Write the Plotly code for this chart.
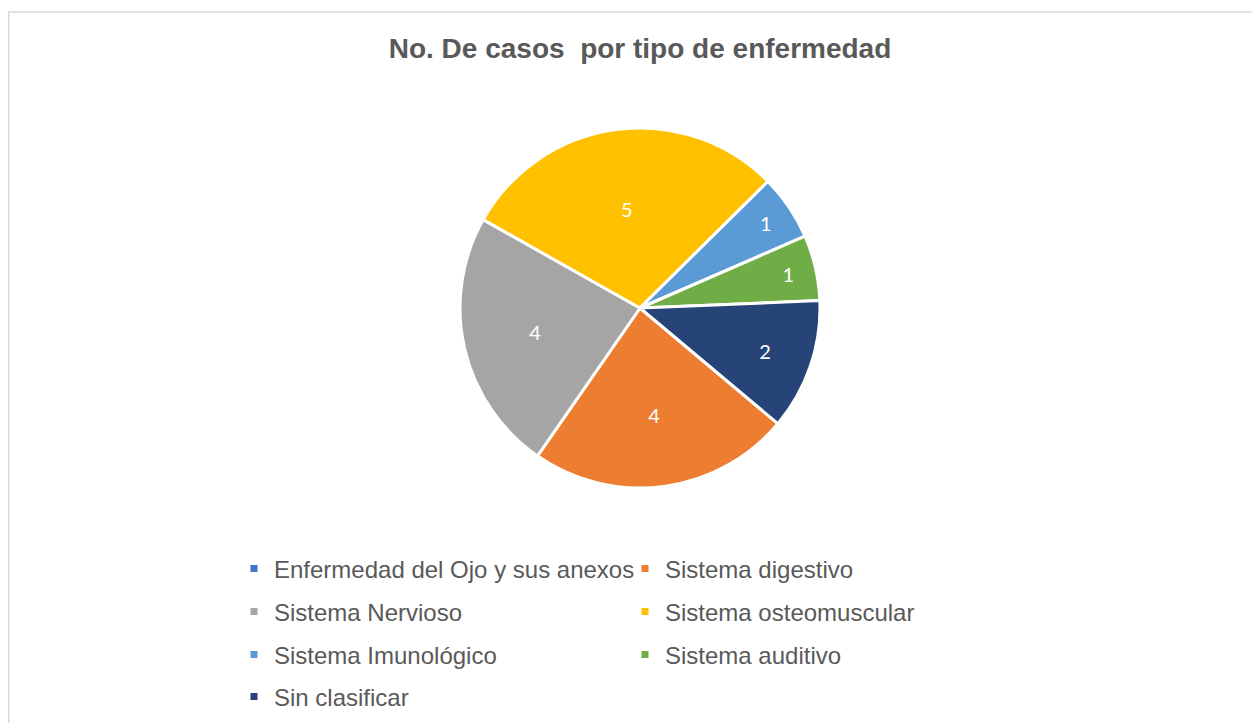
import plotly.graph_objects as go

categories = ["Enfermedad del Ojo y sus anexos", "Sistema digestivo", "Sistema Nervioso",
              "Sistema osteomuscular", "Sistema Imunológico", "Sistema auditivo", "Sin clasificar"]
values = [0, 4, 4, 5, 1, 1, 2]
colors = ["#4472C4", "#ED7D31", "#A5A5A5", "#FFC000", "#5B9BD5", "#70AD47", "#264478"]
title_text = "No. De casos \u00a0por tipo de enfermedad"

# figure sits at an 8px page offset (default body margin)
W, H = 1252, 715
fig = go.Figure()

fig.add_trace(go.Pie(
    labels=categories, values=values, sort=False, direction="clockwise", rotation=130,
    marker=dict(colors=colors, line=dict(color="white", width=3)),
    text=[str(v) if v else "" for v in values], textinfo="text",
    textposition="inside", insidetextorientation="horizontal",
    textfont=dict(family="Lato", size=20, color="white"),
    domain=dict(x=[452 / W, 812 / W], y=[1 - 480 / H, 1 - 120 / H]),
    showlegend=False, hoverinfo="label+value",
))

# legend entries (one legend per row, two columns)
row_y = [561, 604, 647, 689]
legend_names = ["legend", "legend2", "legend3", "legend4"]
for i, (cat, col) in enumerate(zip(categories, colors)):
    row = i // 2
    fig.add_trace(go.Scatter(
        x=[None], y=[None], mode="markers", name=cat,
        marker=dict(symbol="square", size=7, color=col),
        legend=legend_names[row], showlegend=True,
    ))

legend_common = dict(orientation="h", entrywidth=346, entrywidthmode="pixels",
                     xanchor="left", yanchor="middle", bgcolor="rgba(0,0,0,0)",
                     font=dict(family="Liberation Sans, Arial", size=24, color="#595959"),
                     itemclick=False, itemdoubleclick=False)
layout_legends = {}
for r, ln in enumerate(legend_names):
    layout_legends[ln] = dict(x=226 / W, y=1 - row_y[r] / H, **legend_common)

fig.update_layout(
    width=W, height=H,
    margin=dict(l=0, r=0, t=0, b=0),
    paper_bgcolor="white", plot_bgcolor="white",
    title=dict(text=title_text, x=632 / W, xanchor="center", y=1 - 40 / H, yanchor="middle",
               font=dict(family="Liberation Sans, Arial", size=28, color="#595959", weight="bold")),
    xaxis=dict(visible=False), yaxis=dict(visible=False),
    shapes=[dict(type="rect", xref="paper", yref="paper",
                 x0=0.75 / W, x1=1.02, y0=-0.02, y1=1 - 4 / H,
                 line=dict(color="#D9D9D9", width=1.5), fillcolor="rgba(0,0,0,0)", layer="below")],
    **layout_legends,
)

fig.write_html("out.html")
